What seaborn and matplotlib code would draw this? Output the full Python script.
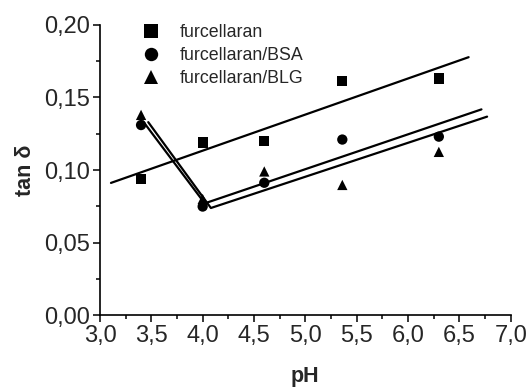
import numpy as np
import pandas as pd
import matplotlib
matplotlib.use("Agg")
import matplotlib.pyplot as plt
from matplotlib.ticker import MultipleLocator, FuncFormatter
import seaborn as sns

# Loss tangent of the gels as a function of pH
ph = [3.4, 4.0, 4.6, 5.36, 6.3]
tan_furcellaran = [0.094, 0.119, 0.120, 0.1615, 0.163]
tan_bsa = [0.131, 0.0748, 0.0912, 0.121, 0.123]
tan_blg = [0.138, 0.080, 0.099, 0.0897, 0.1125]
series_names = ["furcellaran", "furcellaran/BSA", "furcellaran/BLG"]

# Trend lines (guides to the eye): end points of each segment
trend_furc_x = [3.107, 6.59]
trend_furc_y = [0.0911, 0.1778]
trend_bsa_x = [3.42, 4.02, 6.715]
trend_bsa_y = [0.1335, 0.0770, 0.1418]
trend_blg_x = [3.47, 4.08, 6.77]
trend_blg_y = [0.1330, 0.0738, 0.1368]

df = pd.DataFrame({
    "pH": ph * 3,
    "tan": tan_furcellaran + tan_bsa + tan_blg,
    "sample": [s for s in series_names for _ in ph],
})

sns.set_style("ticks")
plt.rcParams["font.family"] = ["Liberation Sans", "DejaVu Sans"]

fig = plt.figure(figsize=(5.31, 3.88), dpi=100)
ax = fig.add_axes([0.1883, 0.1881, 0.7735, 0.7475])

for tx, ty in [(trend_furc_x, trend_furc_y),
               (trend_bsa_x, trend_bsa_y),
               (trend_blg_x, trend_blg_y)]:
    sns.lineplot(x=tx, y=ty, ax=ax, color="black", linewidth=1.6,
                 sort=False, estimator=None)

sns.scatterplot(data=df, x="pH", y="tan", style="sample", ax=ax,
                markers={"furcellaran": "s", "furcellaran/BSA": "o",
                         "furcellaran/BLG": "^"},
                hue="sample",
                palette={s: "black" for s in series_names},
                s=55, edgecolor="black", linewidth=0, zorder=3)

ax.set_xlim(3.0, 7.0)
ax.set_ylim(0.0, 0.20)
ax.xaxis.set_major_locator(MultipleLocator(0.5))
ax.xaxis.set_minor_locator(MultipleLocator(0.25))
ax.yaxis.set_major_locator(MultipleLocator(0.05))
ax.yaxis.set_minor_locator(MultipleLocator(0.025))
ax.xaxis.set_major_formatter(FuncFormatter(lambda v, p: f"{v:.1f}".replace(".", ",")))
ax.yaxis.set_major_formatter(FuncFormatter(lambda v, p: f"{v:.2f}".replace(".", ",")))

ax.tick_params(axis="both", which="major", direction="out", length=5,
               width=1.1, labelsize=17, color="black", pad=2)
ax.tick_params(axis="both", which="minor", direction="out", length=3,
               width=1.1, color="black")
for side in ["left", "bottom"]:
    ax.spines[side].set_linewidth(1.2)
    ax.spines[side].set_color("black")
sns.despine(ax=ax)

ax.set_xlabel("pH", fontsize=15.5, fontweight="bold", labelpad=14)
ax.set_ylabel("tan δ", fontsize=15.5, fontweight="bold", labelpad=6)

handles, labels = ax.get_legend_handles_labels()
ax.legend(handles, labels, loc="upper left", bbox_to_anchor=(0.055, 1.04),
          frameon=False, fontsize=12.8, handletextpad=0.6,
          labelspacing=0.35, borderaxespad=0.2, markerscale=1.3)

fig.savefig("out.png", dpi=100)
